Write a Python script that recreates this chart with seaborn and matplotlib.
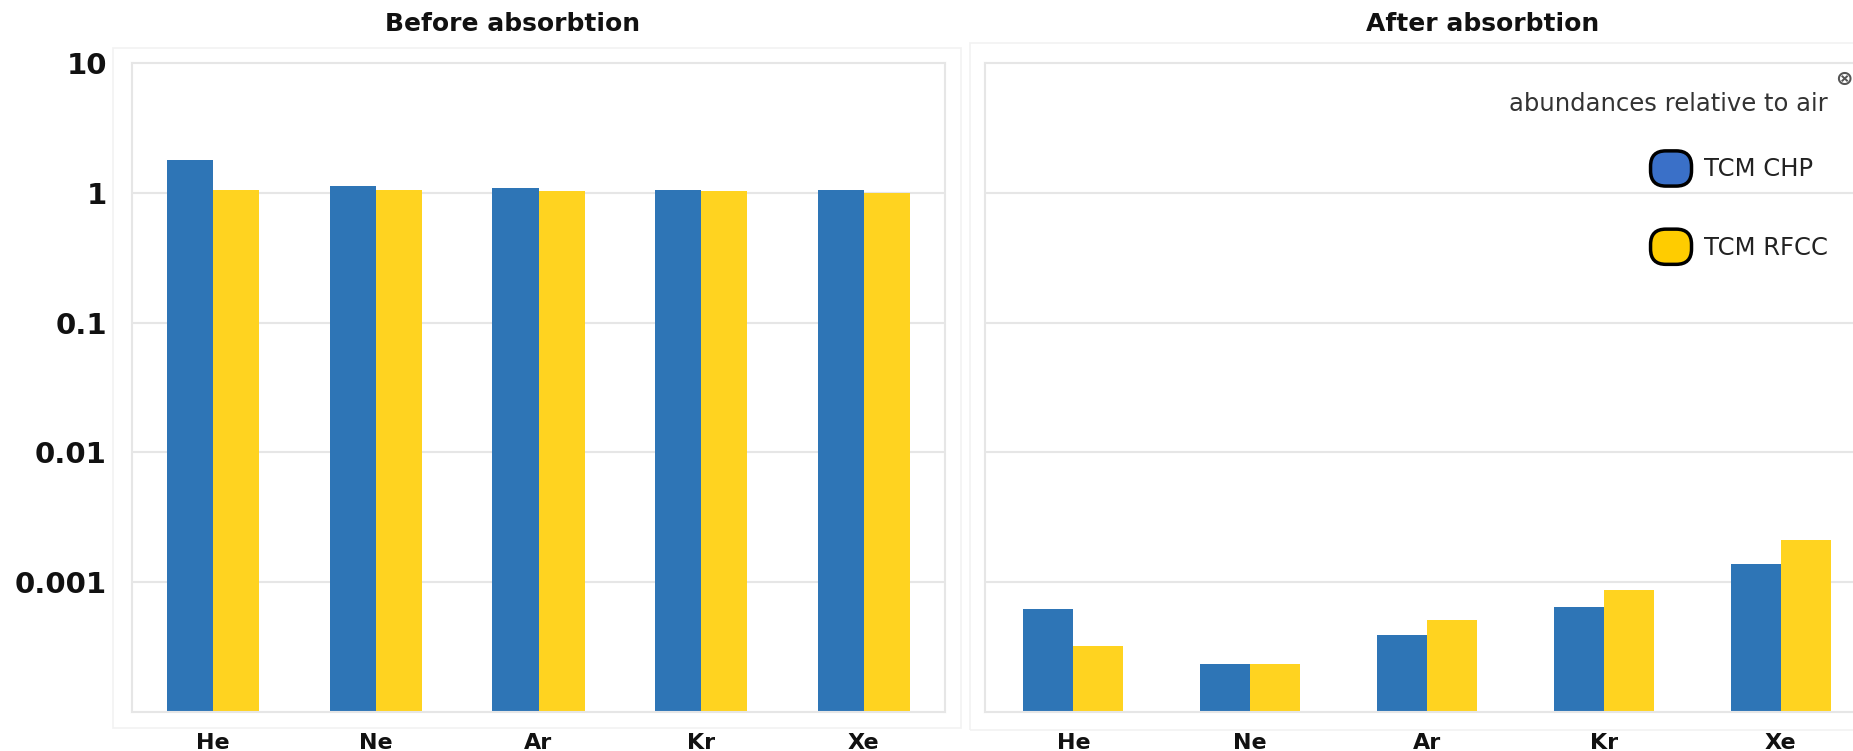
import matplotlib
matplotlib.use('Agg')
import matplotlib.pyplot as plt
import matplotlib.patches as mpatches
from matplotlib.legend_handler import HandlerPatch
import pandas as pd
import seaborn as sns

gases = ['He', 'Ne', 'Ar', 'Kr', 'Xe']
series = ['TCM CHP', 'TCM RFCC']
before_chp = [1.8, 1.12, 1.09, 1.06, 1.05]
before_rfcc = [1.05, 1.05, 1.04, 1.04, 1.0]
after_chp = [6.2e-4, 2.36e-4, 3.9e-4, 6.4e-4, 1.39e-3]
after_rfcc = [3.2e-4, 2.33e-4, 5.1e-4, 8.7e-4, 2.1e-3]
ytick_vals = [0.001, 0.01, 0.1, 1, 10]
ytick_labels = ['0.001', '0.01', '0.1', '1', '10']

bar_colors = ['#2e75b6', '#ffd320']
legend_colors = ['#3a70c8', '#ffcc00']
grid_col = '#e6e6e6'


def long_df(chp, rfcc):
    return pd.DataFrame({
        'gas': gases * 2,
        'series': [series[0]] * len(gases) + [series[1]] * len(gases),
        'value': chp + rfcc,
    })


df_before = long_df(before_chp, before_rfcc)
df_after = long_df(after_chp, after_rfcc)

sns.set_style('white')
plt.rcParams['font.family'] = ['DejaVu Sans']
plt.rcParams['text.color'] = '#111111'
plt.rcParams['xtick.color'] = '#111111'
plt.rcParams['ytick.color'] = '#111111'

W, H = 1853, 751
fig = plt.figure(figsize=(W / 100, H / 100), dpi=100)

# faint outer panel frames (pixels: left, top, right, bottom)
for l, t, r, b in [(113, 48, 961, 728), (970, 43, 1870, 730)]:
    fig.patches.append(mpatches.Rectangle((l / W, 1 - b / H), (r - l) / W, (b - t) / H,
                                          transform=fig.transFigure, fill=False,
                                          edgecolor='#f2f2f2', lw=1.2))

ax1 = fig.add_axes([132 / W, 1 - 712 / H, (945 - 132) / W, (712 - 63) / H])
ax2 = fig.add_axes([985 / W, 1 - 712 / H, (1869 - 985) / W, (712 - 63) / H])

for ax, d in [(ax1, df_before), (ax2, df_after)]:
    ax.set_yscale('log')
    sns.barplot(data=d, x='gas', y='value', hue='series', palette=bar_colors,
                width=0.566, saturation=1, linewidth=0, ax=ax, legend=False, zorder=2)
    ax.set_ylim(1e-4, 10)
    ax.set_xlim(-0.5, 4.5)
    ax.set_xlabel('')
    ax.set_ylabel('')
    ax.minorticks_off()
    ax.set_yticks(ytick_vals)
    for v in ytick_vals[:-1]:
        ax.axhline(v, color=grid_col, lw=1.5, zorder=0)
    for s in ax.spines.values():
        s.set_color(grid_col)
        s.set_linewidth(1.5)
    ax.tick_params(length=0)
    for lab in ax.get_xticklabels():
        lab.set_fontweight('bold')
        lab.set_fontsize(16)
    ax.tick_params(axis='x', pad=15)

ax1.set_yticklabels(ytick_labels, fontsize=21, fontweight='bold')
ax1.tick_params(axis='y', pad=18)

ax2.set_yticklabels([])
ax2.spines['right'].set_visible(False)

fig.text(513 / W, 1 - 24 / H, 'Before absorbtion', ha='center', va='center',
         fontsize=18, fontweight='bold')
fig.text(1483 / W, 1 - 24 / H, 'After absorbtion', ha='center', va='center',
         fontsize=18, fontweight='bold')


def rounded(legend, orig_handle, xdescent, ydescent, width, height, fontsize):
    return mpatches.FancyBboxPatch((-xdescent + 1, -ydescent - 2), width - 2, height + 4,
                                   boxstyle='round,pad=0,rounding_size=11')


handles = [mpatches.Patch(facecolor=c, edgecolor='black', linewidth=2.5) for c in legend_colors]
leg = ax2.legend(handles, series, title='abundances relative to air',
                 loc='upper right', bbox_to_anchor=(1840 / W, 1 - 80 / H),
                 bbox_transform=fig.transFigure, frameon=False, alignment='right',
                 fontsize=17.5, title_fontsize=17.5, handlelength=1.8, handleheight=1.5,
                 handletextpad=0.45, labelspacing=2.0, borderpad=0,
                 handler_map={mpatches.Patch: HandlerPatch(patch_func=rounded)})
leg.get_title().set_color('#333333')
for t in leg.get_texts():
    t.set_color('#222222')
leg._legend_box.sep = 27

fig.text(1844 / W, 1 - 79 / H, '\u2297', ha='center', va='center', fontsize=15,
         color='#555555', fontweight='bold')

fig.savefig('out.png', dpi=100)
